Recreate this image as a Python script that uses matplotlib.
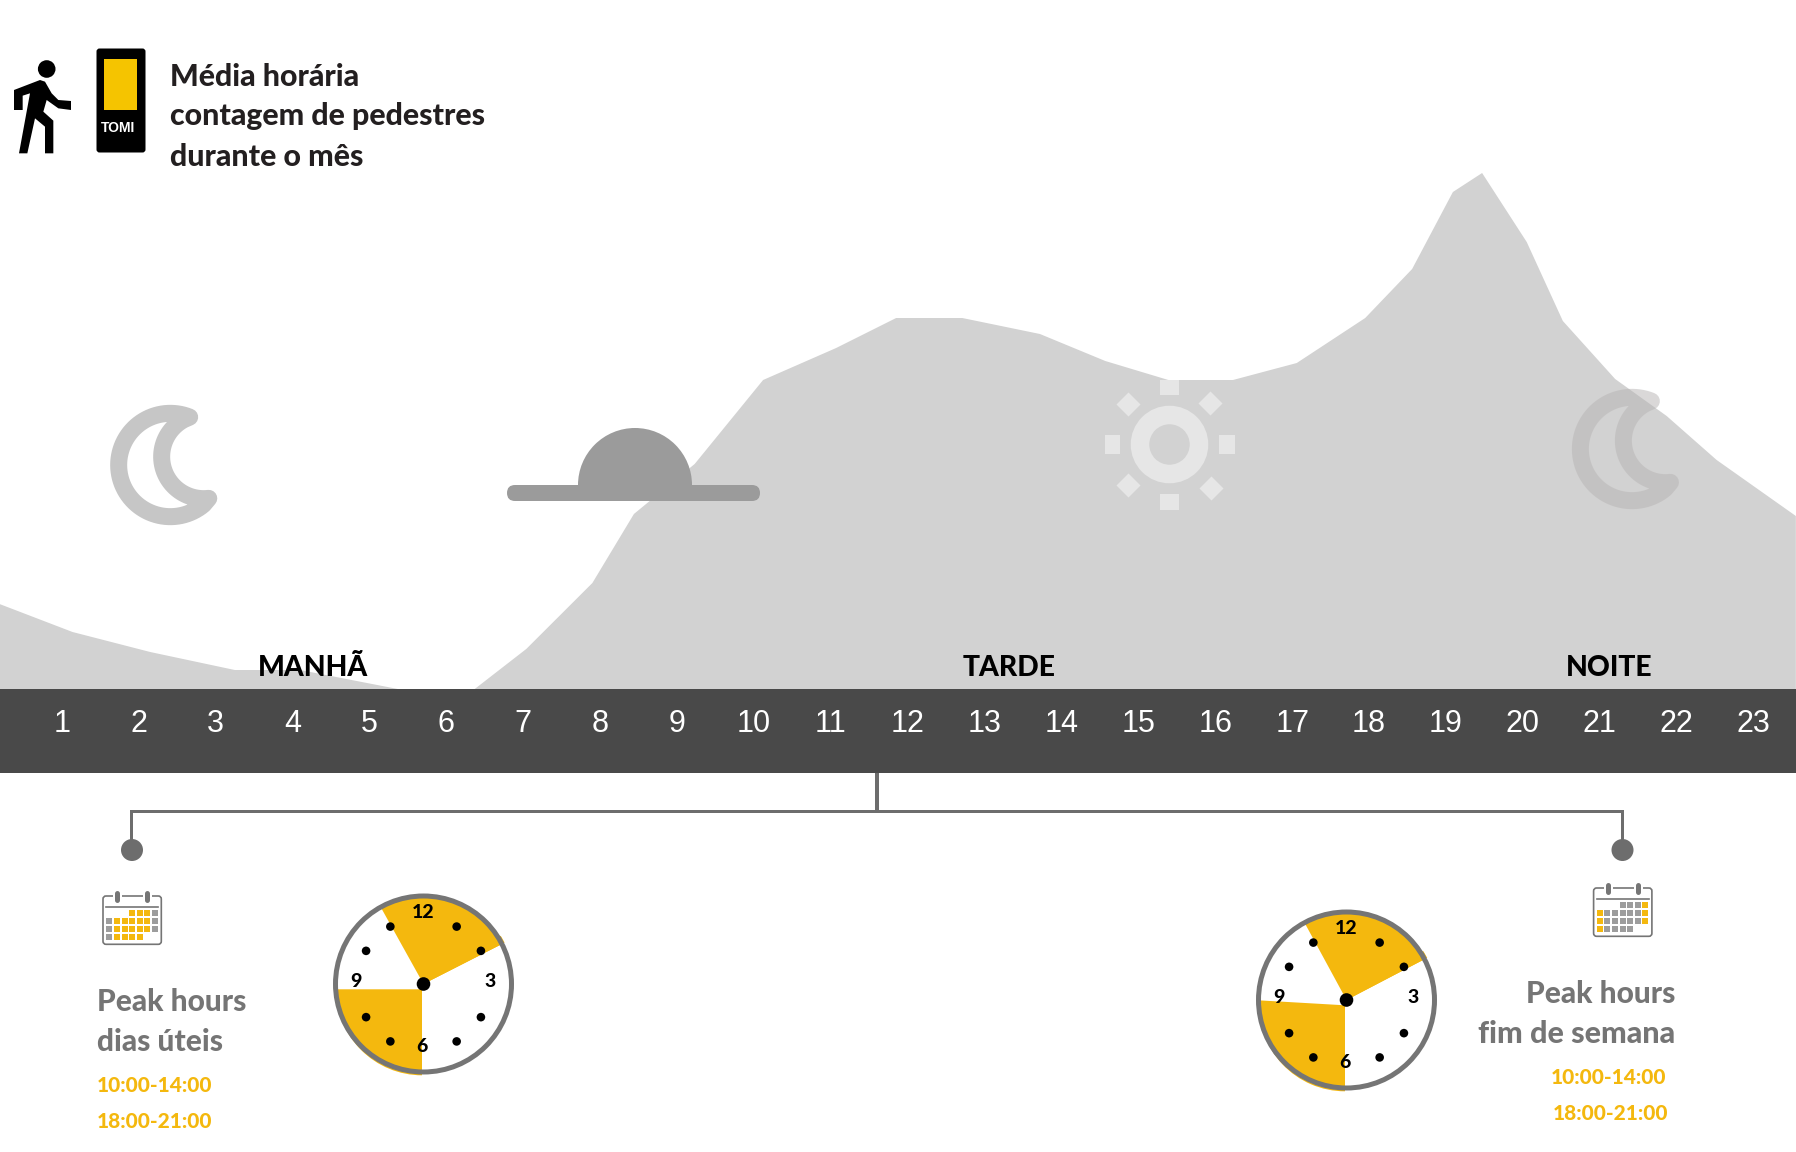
"""
Hourly pedestrian count over the month, with the weekday and weekend peak-hour clocks.
"""
import numpy as np
import matplotlib
matplotlib.use("Agg")
import matplotlib.pyplot as plt
from matplotlib.patches import Circle, Wedge, Rectangle, FancyBboxPatch, RegularPolygon, PathPatch, Polygon
from matplotlib.path import Path

W, H = 1796, 1152
BAND_TOP, BAND_BOTTOM = 689, 773

# pedestrian profile (hour of day, relative count)
AREA_HOURS = [0.20, 1.15, 2.16, 3.26, 4.11, 5.38, 6.38, 7.05, 7.91, 8.45, 9.24, 10.13, 11.08, 11.86, 12.72,
              13.73, 14.58, 15.40, 16.24, 17.07, 17.96, 18.57, 19.10, 19.48, 20.06, 20.53, 21.21, 21.88, 22.53, 23.56]
AREA_COUNTS = [85, 57, 37, 19, 19, 0, 0, 40, 106, 175, 225, 309, 341, 371, 371,
               355, 328, 309, 309, 326, 371, 420, 497, 516, 447, 368, 310, 273, 229, 173]
HOURS = list(range(1, 24))
PERIODS = ["MANHÃ", "TARDE", "NOITE"]
PERIOD_HOURS = [4.28, 13.33, 21.13]

# clock faces: peak spans in clock hours
WEEKDAY_PEAKS = [(-0.97, 2.1), (6, 9)]
WEEKEND_PEAKS = [(-0.95, 2.08), (6, 9.11)]

# calendar cells: 0 empty, 1 off day, 2 counted day
WEEKDAY_CAL = [[0, 0, 0, 2, 2, 2, 1], [1, 2, 2, 2, 2, 2, 1], [1, 2, 2, 2, 2, 2, 1], [1, 2, 2, 2, 2, 0, 0]]
WEEKEND_CAL = [[0, 0, 0, 1, 1, 1, 2], [2, 1, 1, 1, 1, 1, 2], [2, 1, 1, 1, 1, 1, 2], [2, 1, 1, 1, 1, 0, 0]]

TITLE_LINES = ["Média horária", "contagem de pedestres", "durante o mês"]
TIMES = ["10:00-14:00", "18:00-21:00"]

AREA_C = "#d2d2d2"
BAND_C = "#494949"
GREY = "#757575"
YELLOW = "#f4b80e"
CELL_GREY = "#9d9d9d"
TEXT_FONT = "Lato"
BOLD = 900
PX = 0.72  # points per pixel at dpi=100

plt.rcParams["font.family"] = TEXT_FONT

fig = plt.figure(figsize=(W / 100, H / 100), dpi=100, facecolor="white")

xlim = (1 - 61 / 76.9, 1 + (W - 61) / 76.9)

# area
ax_area = fig.add_axes([0, (H - BAND_TOP) / H, 1, BAND_TOP / H])
ax_area.fill_between(AREA_HOURS, AREA_COUNTS, 0, color=AREA_C, lw=0)
ax_area.set_xlim(*xlim)
ax_area.set_ylim(0, BAND_TOP)
ax_area.axis("off")

# hour band
ax_band = fig.add_axes([0, (H - BAND_BOTTOM) / H, 1, (BAND_BOTTOM - BAND_TOP) / H], facecolor=BAND_C)
ax_band.set_xlim(*xlim)
ax_band.set_ylim(0, 1)
ax_band.set_xticks([])
ax_band.set_yticks([])
for s in ax_band.spines.values():
    s.set_visible(False)
for h in HOURS:
    ax_band.text(h + 0.01, 0.585, str(h), color="white", ha="center", va="center", fontsize=22,
                 family="Liberation Sans")

# overlay in pixels for the icons
ax = fig.add_axes([0, 0, 1, 1], zorder=5)
ax.set_xlim(0, W)
ax.set_ylim(H, 0)
ax.axis("off")
ax.patch.set_alpha(0)


def arc(cx, cy, r, a0, a1, n=40):
    t = np.radians(np.linspace(a0, a1, n))
    return np.column_stack([cx + r * np.cos(t), cy + r * np.sin(t)])


def moon(x0, y0, color, alpha=1.0):
    # centre line of the crescent, thirds of a pixel from the corner of the zoomed icon
    outer = arc(238, 222, 155, -68, -310, 70)
    inner = arc(338, 197, 126, 83, 245, 50)
    pts = np.vstack([outer, inner]) / 3 + [x0, y0]
    codes = [Path.MOVETO] + [Path.LINETO] * (len(pts) - 2) + [Path.CLOSEPOLY]
    ax.add_patch(PathPatch(Path(pts, codes), fc="none", ec=color, alpha=alpha, lw=17 * PX,
                           joinstyle="round", capstyle="round"))


moon(91, 391, "#c6c6c6")
moon(1552.7, 375, "#b6b3b3", alpha=0.5)

# sunrise
ax.add_patch(FancyBboxPatch((507, 485), 253, 16, boxstyle="round,pad=0,rounding_size=8", fc="#9b9b9b", ec="none"))
ax.add_patch(Wedge((635, 485), 57, 180, 360, fc="#9b9b9b", ec="none"))

# sun
SUN = "#e6e6e6"
sx, sy = 1169.5, 444.5
ax.add_patch(Circle((sx, sy), 29.5, fc="none", ec=SUN, lw=18.5 * PX))
ax.add_patch(Rectangle((sx - 9.3, sy - 65), 18.6, 15.5, fc=SUN, ec="none"))
ax.add_patch(Rectangle((sx - 9.3, sy + 49.5), 18.6, 15.5, fc=SUN, ec="none"))
ax.add_patch(Rectangle((sx - 65, sy - 9.3), 15.5, 18.6, fc=SUN, ec="none"))
ax.add_patch(Rectangle((sx + 49.5, sy - 9.3), 15.5, 18.6, fc=SUN, ec="none"))
for dx, dy in [(-41, -40), (41, -41), (-41, 41), (42, 44)]:
    ax.add_patch(RegularPolygon((sx + dx, sy + dy), 4, radius=12, fc=SUN, ec="none"))

# walker, thirds of a pixel in the zoomed icon
walker = np.array([(42, 180), (120, 150), (135, 155), (155, 190), (175, 210), (213, 213), (213, 240), (175, 235),
                   (140, 210), (130, 245), (160, 272), (160, 370), (135, 370), (135, 290), (105, 265), (82, 370),
                   (57, 370), (90, 190), (68, 197), (68, 240), (42, 240)]) / 3 + [0, 30]
ax.add_patch(Polygon(walker, closed=True, fc="black", ec="none"))
ax.add_patch(Circle((46.7, 69), 8.8, fc="black", ec="none"))

# counter device
ax.add_patch(FancyBboxPatch((96.5, 48.5), 49, 104, boxstyle="round,pad=0,rounding_size=3", fc="black", ec="none"))
ax.add_patch(Rectangle((104, 59), 33, 51, fc="#f5c400", ec="none"))
ax.text(118, 128.5, "TOMI", color="white", fontsize=10, fontweight="bold", ha="center", va="center",
        family="Liberation Sans")

# heading
for line, y in zip(TITLE_LINES, [74.5, 114.5, 155]):
    ax.text(170, y + 2, line, color="#231f20", fontsize=21.8, fontweight=BOLD, ha="left", va="center")

# period labels
for name, h in zip(PERIODS, PERIOD_HOURS):
    ax.text(61 + (h - 1) * 76.9, 668, name, color="black", fontsize=20.3, fontweight=BOLD, ha="center", va="center")

# connector
ax.plot([877, 877], [773, 811], color="#6d6d6d", lw=4 * PX, solid_capstyle="butt")
ax.plot([131, 131, 1622, 1622], [849, 811, 811, 849], color="#6d6d6d", lw=3 * PX, solid_joinstyle="miter")
ax.add_patch(Circle((132, 850), 11, fc="#6d6d6d", ec="none"))
ax.add_patch(Circle((1622.5, 850), 11, fc="#6d6d6d", ec="none"))


def calendar(x0, y0, cells):
    w, h = 58.3, 48.3
    ax.add_patch(FancyBboxPatch((x0, y0), w, h, boxstyle="round,pad=0,rounding_size=3", fc="white", ec=GREY, lw=1.2))
    ax.plot([x0 + 3, x0 + w - 3], [y0 + 10.5, y0 + 10.5], color=GREY, lw=1.2)
    for rx in (14, 44):
        ax.plot([x0 + rx, x0 + rx], [y0 - 3, y0 + 5], color="white", lw=9 * PX, solid_capstyle="round")
        ax.plot([x0 + rx, x0 + rx], [y0 - 3, y0 + 4], color=GREY, lw=5 * PX, solid_capstyle="round")
    for r, row in enumerate(cells):
        for c, v in enumerate(row):
            if v:
                ax.add_patch(Rectangle((x0 + 3.3 + c * 7.6, y0 + 14.3 + r * 8), 6, 6,
                                       fc=CELL_GREY if v == 1 else YELLOW, ec="none"))


calendar(103, 896, WEEKDAY_CAL)
calendar(1593.6, 888, WEEKEND_CAL)


def clock(cx, cy, peaks):
    a = fig.add_axes([(cx - 100) / W, 1 - (cy + 100) / H, 200 / W, 200 / H], zorder=6)
    a.set_xlim(-100, 100)
    a.set_ylim(-100, 100)
    a.axis("off")
    a.add_patch(Circle((0, 0), 88, fc="white", ec="none"))
    upper, lower = peaks
    a.add_patch(Wedge((0, 0), 91, 90 - 30 * upper[1], 90 - 30 * upper[1] + 5, fc=YELLOW, ec="none"))
    a.add_patch(Wedge((0, 0), 87, 90 - 30 * upper[1], 90 - 30 * upper[0], fc=YELLOW, ec="none"))
    a.add_patch(Wedge((-1.5, -5.3), 86, 90 - 30 * lower[1] + 360, 90 - 30 * lower[0] + 360, fc=YELLOW, ec="none"))
    a.add_patch(Circle((0, 0), 88, fc="none", ec=GREY, lw=5 * PX))
    for hh in (1, 2, 4, 5, 7, 8, 10, 11):
        t = np.radians(90 - 30 * hh)
        a.add_patch(Circle((66.3 * np.cos(t), 66.3 * np.sin(t)), 4.3, fc="black", ec="none"))
    a.add_patch(Circle((0, 0), 6.8, fc="black", ec="none"))
    for label, (dx, dy) in zip(["12", "3", "6", "9"], [(-0.7, 71.5), (66.7, 2.7), (-2, -62), (-67.7, 2.7)]):
        a.text(dx, dy, label, color="black", fontsize=14, fontweight=BOLD, ha="center", va="center")


clock(423.5, 984, WEEKDAY_PEAKS)
clock(1346.5, 1000, WEEKEND_PEAKS)

# peak hour captions
ax.text(97, 1002, "Peak hours", color=GREY, fontsize=21.5, fontweight=BOLD, va="center", ha="left")
ax.text(97, 1042, "dias úteis", color=GREY, fontsize=21.5, fontweight=BOLD, va="center", ha="left")
ax.text(97, 1086, TIMES[0], color=YELLOW, fontsize=15, fontweight=BOLD, va="center", ha="left")
ax.text(97, 1121, TIMES[1], color=YELLOW, fontsize=15, fontweight=BOLD, va="center", ha="left")

ax.text(1675, 994, "Peak hours", color=GREY, fontsize=21.5, fontweight=BOLD, va="center", ha="right")
ax.text(1675, 1034, "fim de semana", color=GREY, fontsize=22, fontweight=BOLD, va="center", ha="right")
ax.text(1551, 1078, TIMES[0], color=YELLOW, fontsize=15, fontweight=BOLD, va="center", ha="left")
ax.text(1553, 1113, TIMES[1], color=YELLOW, fontsize=15, fontweight=BOLD, va="center", ha="left")

fig.savefig("out.png", dpi=100)
